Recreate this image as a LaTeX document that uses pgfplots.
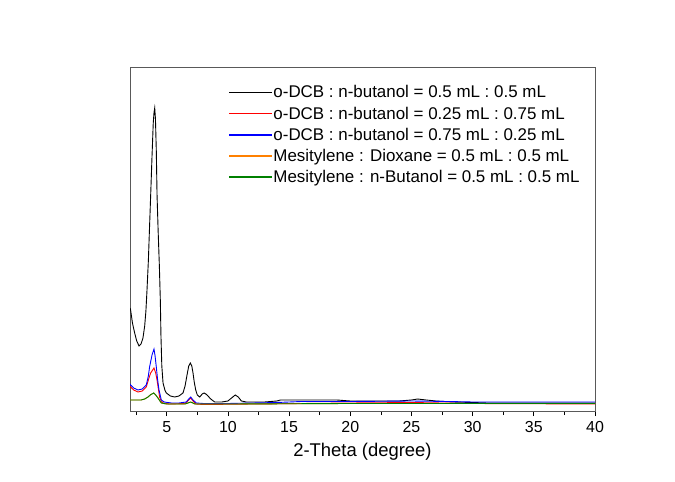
\documentclass[border=0pt]{standalone}
\usepackage{fontspec}
\setmainfont{Liberation Sans}
\usepackage{pgfplots}
\pgfplotsset{compat=1.18}
\definecolor{myorange}{RGB}{255,128,0}
\definecolor{mygreen}{RGB}{0,128,0}
\begin{document}
\begin{tikzpicture}
\begin{axis}[
  scale only axis,
  width=465bp, height=344bp,
  xmin=2, xmax=40, ymin=0, ymax=344,
  axis line style={black!65, line width=0.8bp},
  xtick={5,10,...,40},
  minor xtick={2.5,7.5,...,37.5},
  ytick=\empty,
  xtick pos=bottom,
  tick align=outside,
  major tick length=5bp,
  minor tick length=4bp,
  tick style={black, line width=0.7bp},
  /pgf/number format/assume math mode=true,
  ticklabel style={font=\fontsize{16}{19}\selectfont},
  xticklabel style={yshift=-2bp},
  xlabel={2-Theta (degree)},
  xlabel style={font=\fontsize{18.5}{22}\selectfont, yshift=-3bp},
  legend style={at={(0.213,0.95)}, anchor=north west, draw=none, fill=none,
    font=\fontsize{17}{20}\selectfont, row sep=5bp, inner sep=0pt,
    nodes={inner sep=1.2bp}},
  legend cell align=left,
  legend image code/.code={\fill[#1, draw=none] (0bp,-0.8bp) rectangle (43bp,0.8bp);},
  every axis plot/.append style={line width=0.9bp},
]
\addplot[black] table {
2.0 103
2.05 101
2.2 88
2.38 78
2.55 70
2.74 65
2.9 67
3.06 73
3.2 85
3.3 100
3.39 121
3.5 150
3.6 185
3.69 216
3.8 255
3.9 288
3.96 298
4.02 303
4.08 292
4.15 260
4.21 216
4.3 180
4.4 145
4.48 110
4.53 75
4.6 45
4.7 28
4.85 21
4.97 18
5.3 15
5.65 14
6.0 15
6.33 18
6.5 25
6.69 38
6.8 45
6.93 48
7.05 45
7.15 38
7.25 29
7.37 21
7.5 16
7.7 14
7.9 17
8.05 18
8.2 17
8.37 15
8.6 12
8.92 9
9.5 9
10.0 10
10.3 13
10.6 16
10.85 14
11.1 10
11.5 9
12.2 9
13.0 9
14.0 10
14.3 11
16.0 11
18.0 11
18.9 11
20 10
22 10
24 10
25 11
25.5 12
26.2 11
27 10
28.4 9
30 8.5
31.2 8
33 8
35 8
37 8
40 8
};
\addlegendentry{o-DCB : n-butanol = 0.5 mL : 0.5 mL}
\addplot[red] table {
2.0 25
2.05 24
2.3 21
2.65 19
3.0 20
3.33 24
3.5 31
3.69 38
3.96 43
4.1 38
4.21 31
4.32 22
4.42 14
4.55 10
4.7 8
5.2 7
6.5 7.5
6.8 11
6.96 13
7.15 10
7.4 7
8 6.5
12 7
20 8
25 8.5
30 7.5
40 7
};
\addlegendentry{o-DCB : n-butanol = 0.25 mL : 0.75 mL}
\addplot[blue] table {
2.0 27
2.05 26
2.3 23
2.65 21
3.0 22
3.33 26
3.5 35
3.6 44
3.8 56
3.96 62
4.05 55
4.15 44
4.25 32
4.37 21
4.56 11
4.8 9
5.38 8
6.0 8
6.6 9
6.8 12
6.96 14
7.15 11
7.42 8
8 7.5
10 7.5
12 8
14 8.5
16 9.5
20 9.5
25 10
28 9.5
30 9
35 9
40 9
};
\addlegendentry{o-DCB : n-butanol = 0.75 mL : 0.25 mL}
\addplot[myorange] table {
2.0 11
2.5 11
2.9 11
3.2 12
3.47 14
3.7 16.5
3.94 18
4.1 16
4.29 13
4.45 10
4.56 8
5 7
6.5 7
6.96 9
7.3 7
10 7
20 7.5
30 7.5
40 7.5
};
\addlegendentry{Mesitylene : Dioxane = 0.5 mL : 0.5 mL}
\addplot[mygreen] table {
2.0 11
2.5 11
2.9 11
3.2 12
3.47 14
3.7 16.5
3.94 18
4.1 16
4.29 13
4.45 10
4.56 8
5 7
6.5 7
6.96 9
7.3 7
10 7
20 7.5
30 7.5
40 7.5
};
\addlegendentry{Mesitylene : n-Butanol = 0.5 mL : 0.5 mL}
\end{axis}
\path[use as bounding box] ([xshift=-130bp,yshift=-71bp]current axis.south west) rectangle ([xshift=80bp,yshift=67bp]current axis.north east);
\end{tikzpicture}
\end{document}
